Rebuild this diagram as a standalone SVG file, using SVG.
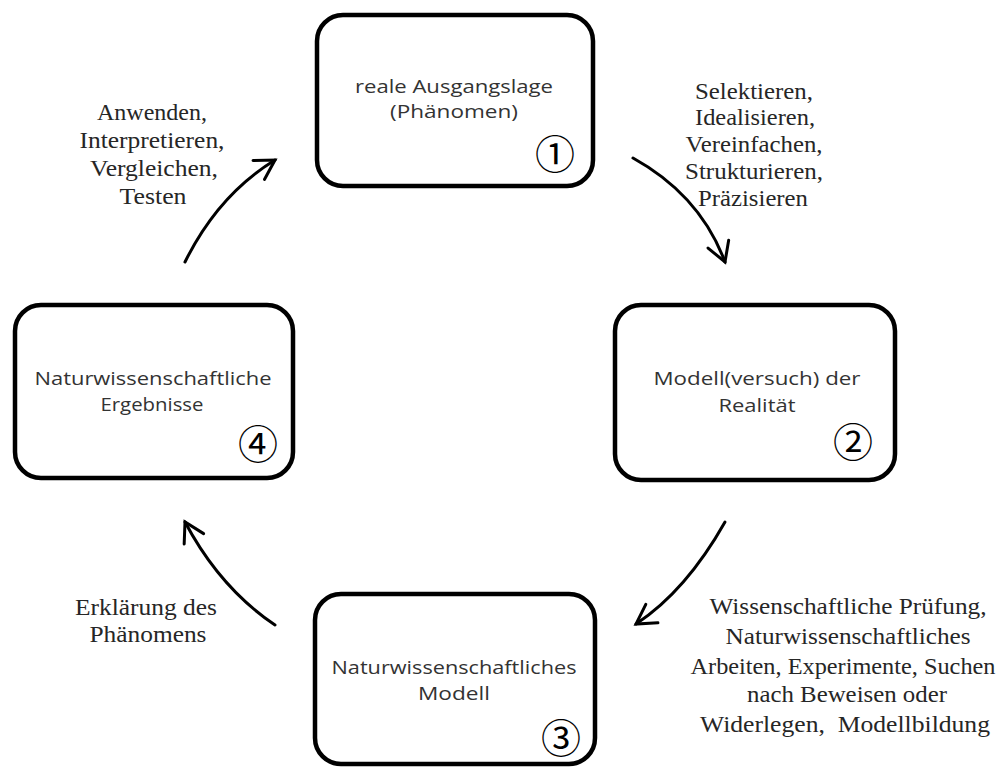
<svg xmlns="http://www.w3.org/2000/svg" width="1008" height="769" viewBox="0 0 1008 769">
<style>
.box{fill:#fff;stroke:#000;stroke-width:4.5}
.bt{font-family:"Open Sans","Liberation Sans",sans-serif;font-size:19px;fill:#333;text-anchor:middle}
.num{font-family:"Noto Sans CJK JP","DejaVu Sans",sans-serif;font-size:40px;fill:#000;text-anchor:middle}
.lbl{font-family:"Liberation Serif","Times New Roman",serif;font-size:23px;fill:#262626;text-anchor:middle}
.con{fill:none;stroke:#000;stroke-width:3;stroke-linecap:round}
</style>
<defs>
<marker id="arr" markerUnits="userSpaceOnUse" markerWidth="30" markerHeight="30" viewBox="-24 -15 30 30" refX="0" refY="0" orient="auto">
<path d="M -19 -11 L 0 0 L -19 11" fill="none" stroke="#000" stroke-width="3" stroke-linecap="round" stroke-linejoin="miter"/>
</marker>
</defs>
<rect width="1008" height="769" fill="#fff"/>
<g id="node1">
<rect class="box" x="317" y="15" width="276" height="171" rx="26"/>
<text class="bt" x="454" y="93" textLength="198" lengthAdjust="spacingAndGlyphs">reale Ausgangslage</text>
<text class="bt" x="454" y="118" textLength="128" lengthAdjust="spacingAndGlyphs">(Phänomen)</text>
<text class="num" x="555" y="169">①</text>
</g>
<g id="node2">
<rect class="box" x="615" y="305" width="280" height="175" rx="26"/>
<text class="bt" x="757" y="385" textLength="207" lengthAdjust="spacingAndGlyphs">Modell(versuch) der</text>
<text class="bt" x="757" y="412" textLength="77" lengthAdjust="spacingAndGlyphs">Realität</text>
<text class="num" x="853" y="457">②</text>
</g>
<g id="node3">
<rect class="box" x="315" y="594" width="280" height="170" rx="26"/>
<text class="bt" x="454" y="674" textLength="245" lengthAdjust="spacingAndGlyphs">Naturwissenschaftliches</text>
<text class="bt" x="454" y="700" textLength="72" lengthAdjust="spacingAndGlyphs">Modell</text>
<text class="num" x="561" y="753">③</text>
</g>
<g id="node4">
<rect class="box" x="15" y="305" width="278" height="173" rx="26"/>
<text class="bt" x="153" y="385" textLength="237" lengthAdjust="spacingAndGlyphs">Naturwissenschaftliche</text>
<text class="bt" x="152" y="411" textLength="103" lengthAdjust="spacingAndGlyphs">Ergebnisse</text>
<text class="num" x="258" y="459">④</text>
</g>
<g id="connectors">
<path class="con" d="M 633 158 Q 700 195 725 262" marker-end="url(#arr)"/>
<path class="con" d="M 725 522 Q 686 591 636 624" marker-end="url(#arr)"/>
<path class="con" d="M 275 625 Q 220 588 185 522" marker-end="url(#arr)"/>
<path class="con" d="M 185 262 Q 218 195 275 160" marker-end="url(#arr)"/>
</g>
<g id="labels">
<text class="lbl" x="754" y="99" textLength="118" lengthAdjust="spacingAndGlyphs">Selektieren,</text>
<text class="lbl" x="755" y="125" textLength="120" lengthAdjust="spacingAndGlyphs">Idealisieren,</text>
<text class="lbl" x="754" y="152" textLength="137" lengthAdjust="spacingAndGlyphs">Vereinfachen,</text>
<text class="lbl" x="754" y="179" textLength="138" lengthAdjust="spacingAndGlyphs">Strukturieren,</text>
<text class="lbl" x="753" y="206" textLength="110" lengthAdjust="spacingAndGlyphs">Präzisieren</text>
<text class="lbl" x="848" y="614" textLength="277" lengthAdjust="spacingAndGlyphs">Wissenschaftliche Prüfung,</text>
<text class="lbl" x="848" y="644" textLength="245" lengthAdjust="spacingAndGlyphs">Naturwissenschaftliches</text>
<text class="lbl" x="843" y="674" textLength="305" lengthAdjust="spacingAndGlyphs">Arbeiten, Experimente, Suchen</text>
<text class="lbl" x="847" y="702" textLength="200" lengthAdjust="spacingAndGlyphs">nach Beweisen oder</text>
<text class="lbl" x="845" y="732" textLength="290" lengthAdjust="spacingAndGlyphs" xml:space="preserve">Widerlegen,  Modellbildung</text>
<text class="lbl" x="152" y="120" textLength="110" lengthAdjust="spacingAndGlyphs">Anwenden,</text>
<text class="lbl" x="152" y="148" textLength="145" lengthAdjust="spacingAndGlyphs">Interpretieren,</text>
<text class="lbl" x="154" y="176" textLength="128" lengthAdjust="spacingAndGlyphs">Vergleichen,</text>
<text class="lbl" x="153" y="204" textLength="67" lengthAdjust="spacingAndGlyphs">Testen</text>
<text class="lbl" x="146" y="615" textLength="142" lengthAdjust="spacingAndGlyphs">Erklärung des</text>
<text class="lbl" x="148" y="642" textLength="117" lengthAdjust="spacingAndGlyphs">Phänomens</text>
</g>
</svg>
